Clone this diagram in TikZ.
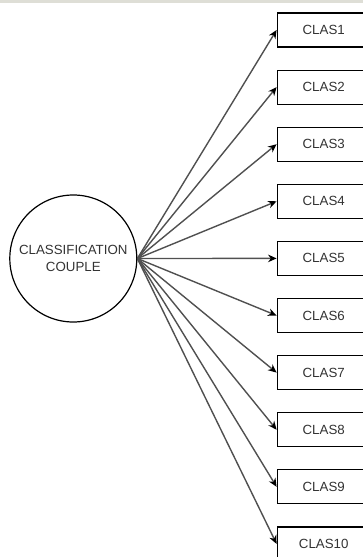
\documentclass[tikz,border=0pt]{standalone}
\usepackage{fontspec}
\setmainfont{Liberation Sans}
\usetikzlibrary{arrows.meta}
\definecolor{bandgray}{RGB}{222,222,214}
\definecolor{txtgray}{RGB}{51,51,51}
\definecolor{linegray}{RGB}{80,80,80}
\begin{document}
\begin{tikzpicture}[x=1pt,y=-1pt,
  clsbox/.style={draw=black,line width=1.2pt,minimum width=93pt,minimum height=34pt,inner sep=0pt,text=txtgray,font=\fontsize{13.3}{16}\selectfont,fill=white},
  hubcircle/.style={circle,draw=black,line width=1.2pt,minimum size=127pt,inner sep=0pt,align=center,text=txtgray,font=\fontsize{13.3}{17}\selectfont},
  conn/.style={draw=linegray,line width=1.4pt,-{Stealth[length=8.5pt,width=7.5pt,color=black]}}]
\useasboundingbox (0,0) rectangle (363,557);
\clip (0,0) rectangle (363,557);
\fill[bandgray] (0,0) rectangle (363,3);
\node[hubcircle] (cc) at (73.3,258.5) {CLASSIFICATION\\COUPLE};
\foreach \i in {1,...,10} {
  \node[clsbox] (c\i) at (323.7,{30+57.1*(\i-1)}) {CLAS\i};
  \draw[conn] (cc.east) -- (c\i.west);
}
\end{tikzpicture}
\end{document}
